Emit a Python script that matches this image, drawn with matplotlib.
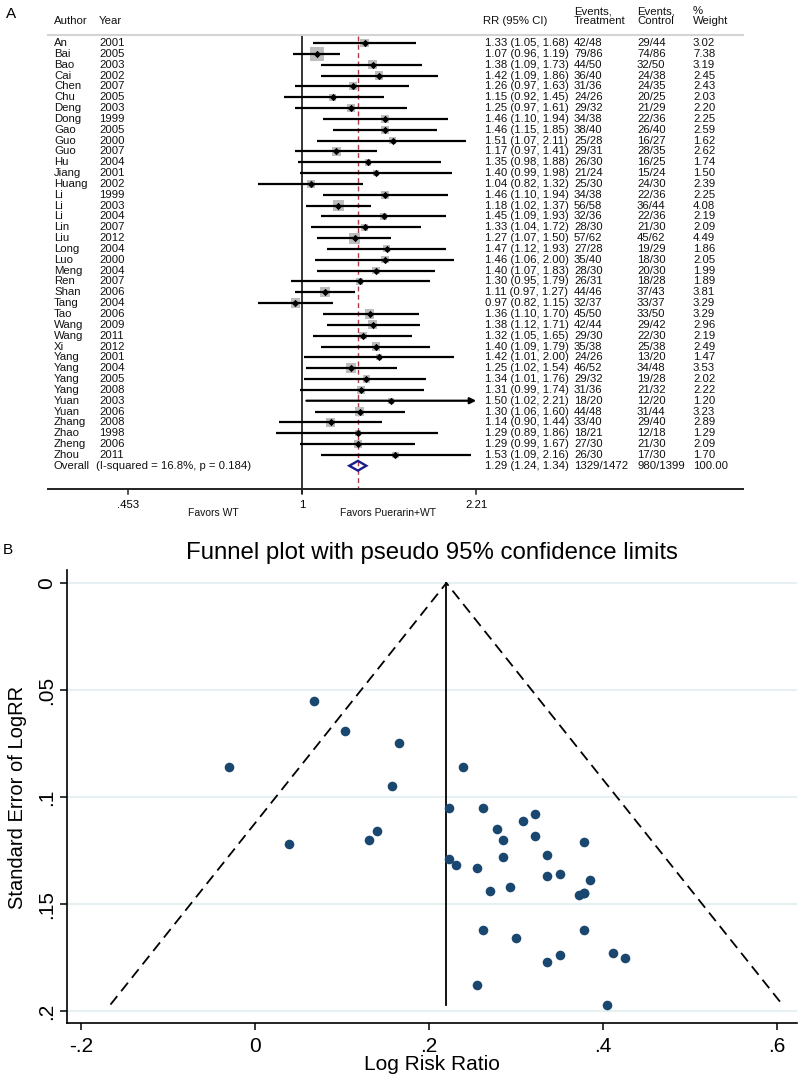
import numpy as np
import matplotlib
matplotlib.use('Agg')
import matplotlib.pyplot as plt
from matplotlib.patches import Polygon

plt.rcParams['font.family'] = ['Liberation Sans', 'DejaVu Sans']

# ---- panel A data (forest plot) ----
authors = ['An', 'Bai', 'Bao', 'Cai', 'Chen', 'Chu', 'Deng', 'Dong', 'Gao', 'Guo',
           'Guo', 'Hu', 'Jiang', 'Huang', 'Li', 'Li', 'Li', 'Lin', 'Liu', 'Long',
           'Luo', 'Meng', 'Ren', 'Shan', 'Tang', 'Tao', 'Wang', 'Wang', 'Xi', 'Yang',
           'Yang', 'Yang', 'Yang', 'Yuan', 'Yuan', 'Zhang', 'Zhao', 'Zheng', 'Zhou']
years = ['2001', '2005', '2003', '2002', '2007', '2005', '2003', '1999', '2005', '2000',
         '2007', '2004', '2001', '2002', '1999', '2003', '2004', '2007', '2012', '2004',
         '2000', '2004', '2007', '2006', '2004', '2006', '2009', '2011', '2012', '2001',
         '2004', '2005', '2008', '2003', '2006', '2008', '1998', '2006', '2011']
rr = [1.33, 1.07, 1.38, 1.42, 1.26, 1.15, 1.25, 1.46, 1.46, 1.51,
      1.17, 1.35, 1.40, 1.04, 1.46, 1.18, 1.45, 1.33, 1.27, 1.47,
      1.46, 1.40, 1.30, 1.11, 0.97, 1.36, 1.38, 1.32, 1.40, 1.42,
      1.25, 1.34, 1.31, 1.50, 1.30, 1.14, 1.29, 1.29, 1.53]
rr_lo = [1.05, 0.96, 1.09, 1.09, 0.97, 0.92, 0.97, 1.10, 1.15, 1.07,
         0.97, 0.98, 0.99, 0.82, 1.10, 1.02, 1.09, 1.04, 1.07, 1.12,
         1.06, 1.07, 0.95, 0.97, 0.82, 1.10, 1.12, 1.05, 1.09, 1.01,
         1.02, 1.01, 0.99, 1.02, 1.06, 0.90, 0.89, 0.99, 1.09]
rr_hi = [1.68, 1.19, 1.73, 1.86, 1.63, 1.45, 1.61, 1.94, 1.85, 2.11,
         1.41, 1.88, 1.98, 1.32, 1.94, 1.37, 1.93, 1.72, 1.50, 1.93,
         2.00, 1.83, 1.79, 1.27, 1.15, 1.70, 1.71, 1.65, 1.79, 2.00,
         1.54, 1.76, 1.74, 2.21, 1.60, 1.44, 1.86, 1.67, 2.16]
ev_treat = ['42/48', '79/86', '44/50', '36/40', '31/36', '24/26', '29/32', '34/38', '38/40', '25/28',
            '29/31', '26/30', '21/24', '25/30', '34/38', '56/58', '32/36', '28/30', '57/62', '27/28',
            '35/40', '28/30', '26/31', '44/46', '32/37', '45/50', '42/44', '29/30', '35/38', '24/26',
            '46/52', '29/32', '31/36', '18/20', '44/48', '33/40', '18/21', '27/30', '26/30']
ev_ctrl = ['29/44', '74/86', '32/50', '24/38', '24/35', '20/25', '21/29', '22/36', '26/40', '16/27',
           '28/35', '16/25', '15/24', '24/30', '22/36', '36/44', '22/36', '21/30', '45/62', '19/29',
           '18/30', '20/30', '18/28', '37/43', '33/37', '33/50', '29/42', '22/30', '25/38', '13/20',
           '34/48', '19/28', '21/32', '12/20', '31/44', '29/40', '12/18', '21/30', '17/30']
weights = [3.02, 7.38, 3.19, 2.45, 2.43, 2.03, 2.20, 2.25, 2.59, 1.62,
           2.62, 1.74, 1.50, 2.39, 2.25, 4.08, 2.19, 2.09, 4.49, 1.86,
           2.05, 1.99, 1.89, 3.81, 3.29, 3.29, 2.96, 2.19, 2.49, 1.47,
           3.53, 2.02, 2.22, 1.20, 3.23, 2.89, 1.29, 2.09, 1.70]
overall_rr, overall_lo, overall_hi = 1.29, 1.24, 1.34
overall_treat, overall_ctrl, overall_w = '1329/1472', '980/1399', '100.00'
overall_note = '(I-squared = 16.8%, p = 0.184)'
forest_ticks = [0.453, 1, 2.21]
forest_ticklabels = ['.453', '1', '2.21']

# ---- panel B data (funnel plot) ----
log_rr = [0.285, 0.068, 0.322, 0.351, 0.231, 0.140, 0.223, 0.378, 0.378, 0.412,
          0.157, 0.300, 0.336, 0.039, 0.378, 0.166, 0.372, 0.285, 0.239, 0.385,
          0.378, 0.336, 0.262, 0.104, -0.030, 0.308, 0.322, 0.278, 0.336, 0.351,
          0.223, 0.293, 0.270, 0.405, 0.262, 0.131, 0.255, 0.255, 0.425]
se_log_rr = [0.120, 0.055, 0.118, 0.136, 0.132, 0.116, 0.129, 0.145, 0.121, 0.173,
             0.095, 0.166, 0.177, 0.122, 0.145, 0.075, 0.146, 0.128, 0.086, 0.139,
             0.162, 0.137, 0.162, 0.069, 0.086, 0.111, 0.108, 0.115, 0.127, 0.174,
             0.105, 0.142, 0.144, 0.197, 0.105, 0.120, 0.188, 0.133, 0.175]
pooled_log_rr = 0.22
se_max = 0.197
funnel_xticks = [-0.2, 0, 0.2, 0.4, 0.6]
funnel_xlabels = ['-.2', '0', '.2', '.4', '.6']
funnel_yticks = [0, 0.05, 0.1, 0.15, 0.2]
funnel_ylabels = ['0', '.05', '.1', '.15', '.2']

W, H = 800, 1079
fig = plt.figure(figsize=(W / 100, H / 100), dpi=100)

# ================= panel A =================
top_h = 530
row0, rowh = 43, 10.84


def ry(p):
    # pixel row of the figure -> row units of panel A
    return (p - row0) / rowh


ax = fig.add_axes([0, 1 - top_h / H, 1, top_h / H])
ax.set_xscale('log')
ax.set_xlim(np.exp(-302 / 219.7), np.exp(498 / 219.7))
ax.set_ylim(ry(top_h), ry(0))
ax.axis('off')
tr = ax.get_yaxis_transform()


def cell(px, y, s, size=8.2, **kw):
    ax.text(px / W, y, s, transform=tr, fontsize=size, va='center', color='#111111', **kw)


rows = np.arange(len(authors))
ov_row = len(authors)

# header
cell(54, ry(21), 'Author')
cell(99, ry(21), 'Year')
cell(483, ry(21), 'RR (95% CI)')
cell(574, ry(11), 'Events,')
cell(574, ry(21), 'Treatment')
cell(637, ry(11), 'Events,')
cell(637, ry(21), 'Control')
cell(693, ry(11), '%')
cell(693, ry(21), 'Weight')
ax.plot([48 / W, 743 / W], [ry(35), ry(35)], transform=tr, color='#d4d4d4', lw=1.5)

for i in rows:
    cell(54, i, authors[i])
    cell(99, i, years[i])
    cell(485, i, f'{rr[i]:.2f} ({rr_lo[i]:.2f}, {rr_hi[i]:.2f})')
    cell(574, i, ev_treat[i])
    cell(637, i, ev_ctrl[i])
    cell(693, i, f'{weights[i]:.2f}')
cell(54, ov_row, 'Overall')
cell(96, ov_row, overall_note)
cell(485, ov_row, f'{overall_rr:.2f} ({overall_lo:.2f}, {overall_hi:.2f})')
cell(574, ov_row, overall_treat)
cell(637, ov_row, overall_ctrl)
cell(693, ov_row, overall_w)

# reference lines
ax.vlines(1, ry(36), ry(494), color='k', lw=1.1, zorder=1)
ax.vlines(overall_rr, ry(36), ry(489), color='#b03a48', lw=1.0,
          linestyles=(0, (3.5, 2.5)), zorder=1)

# study boxes, CIs and points
ax.scatter(rr, rows, marker='s', s=13.75 * np.array(weights), color='#bdbdbd',
           linewidths=0, zorder=2)
x_cap = forest_ticks[-1]
for i in rows:
    if rr_hi[i] >= x_cap:
        ax.annotate('', xy=(x_cap, i), xytext=(rr_lo[i], i),
                    arrowprops=dict(arrowstyle='-|>', color='k', lw=1.6,
                                    mutation_scale=9, shrinkA=0, shrinkB=0),
                    zorder=3)
    else:
        ax.hlines(i, rr_lo[i], rr_hi[i], color='k', lw=1.6, zorder=3)
ax.scatter(rr, rows, marker='D', s=14, color='k', linewidths=0, zorder=4)

dia = Polygon([(overall_lo, ov_row), (overall_rr, ov_row - 0.45),
               (overall_hi, ov_row), (overall_rr, ov_row + 0.45)],
              closed=True, facecolor='none', edgecolor='#1c1c8a', lw=1.7, zorder=4)
ax.add_patch(dia)

# forest axis
ax.plot([48 / W, 743 / W], [ry(489), ry(489)], transform=tr, color='#222222', lw=1.4)
for t, lab in zip(forest_ticks, forest_ticklabels):
    ax.plot([t, t], [ry(489), ry(494)], color='#222222', lw=1.1)
    ax.text(t, ry(505), lab, fontsize=8.2, ha='center', va='center')
cell(213, ry(513), 'Favors WT', size=7.5, ha='center')
cell(388, ry(513), 'Favors Puerarin+WT', size=7.5, ha='center')

fig.text(11 / W, 1 - 14 / H, 'A', fontsize=11, ha='center', va='center')
fig.text(8 / W, 1 - 550 / H, 'B', fontsize=11, ha='center', va='center')

# ================= panel B =================
bx = fig.add_axes([67 / W, 1 - 1023 / H, (797 - 67) / W, (1023 - 570) / H])
bx.set_xlim(-0.2161, 0.623)
bx.set_ylim(0.2056, -0.00607)
for t in funnel_yticks:
    bx.axhline(t, color='#e6eff1', lw=1.5, zorder=0)
bx.plot([pooled_log_rr - 1.96 * se_max, pooled_log_rr, pooled_log_rr + 1.96 * se_max],
        [se_max, 0, se_max], color='k', ls='--', dashes=(6, 3.5), lw=1.3, zorder=1)
bx.plot([pooled_log_rr, pooled_log_rr], [0, se_max], color='k', lw=1.3, zorder=1)
bx.scatter(log_rr, se_log_rr, s=48, color='#1a476f', linewidths=0, zorder=3)

for side in ['top', 'right']:
    bx.spines[side].set_visible(False)
for side in ['left', 'bottom']:
    bx.spines[side].set_linewidth(1.2)
bx.set_xticks(funnel_xticks)
bx.set_xticklabels(funnel_xlabels)
bx.set_yticks(funnel_yticks)
bx.set_yticklabels(funnel_ylabels, rotation=90, va='center')
bx.tick_params(axis='both', length=5, width=1.1, labelsize=15, pad=5)
bx.tick_params(axis='y', pad=3)

fig.text(432 / W, 1 - 553 / H, 'Funnel plot with pseudo 95% confidence limits',
         fontsize=17.3, ha='center', va='center')
fig.text(432 / W, 1 - 1065 / H, 'Log Risk Ratio', fontsize=15, ha='center', va='center')
fig.text(18 / W, 1 - 797 / H, 'Standard Error of LogRR', fontsize=14.5,
         rotation=90, ha='center', va='center')

fig.savefig('out.png', dpi=100)
